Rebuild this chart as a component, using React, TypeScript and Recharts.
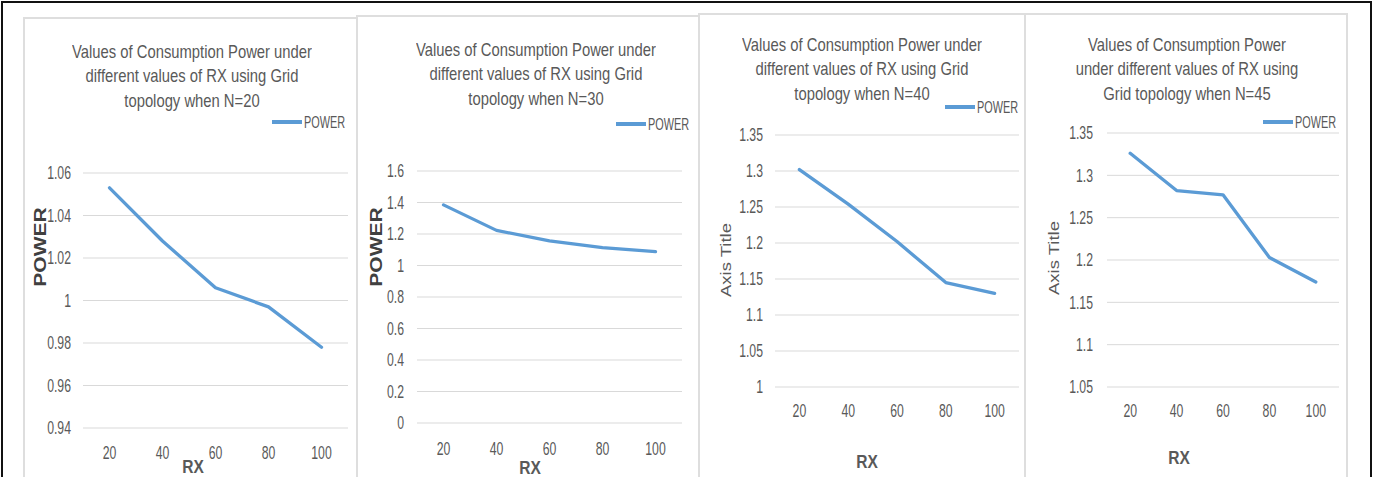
import { LineChart, Line, XAxis, YAxis, CartesianGrid, Legend } from 'recharts';

// RX categories shared by all four charts
const rxValues = [20, 40, 60, 80, 100];

// POWER (N = 20, 30, 40, 45)
const powerN20 = [1.053, 1.028, 1.006, 0.997, 0.978];
const powerN30 = [1.385, 1.223, 1.156, 1.113, 1.088];
const powerN40 = [1.302, 1.254, 1.202, 1.145, 1.13];
const powerN45 = [1.326, 1.282, 1.277, 1.203, 1.174];

// y tick labels
const ticksN20 = [0.94, 0.96, 0.98, 1, 1.02, 1.04, 1.06];
const ticksN30 = [0, 0.2, 0.4, 0.6, 0.8, 1, 1.2, 1.4, 1.6];
const ticksN40 = [1, 1.05, 1.1, 1.15, 1.2, 1.25, 1.3, 1.35];
const ticksN45 = [1.05, 1.1, 1.15, 1.2, 1.25, 1.3, 1.35];

const titleN20 = ['Values of Consumption Power under', 'different values of RX using Grid', 'topology when N=20'];
const titleN30 = ['Values of Consumption Power under', 'different values of RX using Grid', 'topology when N=30'];
const titleN40 = ['Values of Consumption Power under', 'different values of RX using Grid', 'topology when N=40'];
const titleN45 = ['Values of Consumption Power', 'under different values of RX using', 'Grid topology when N=45'];

const seriesName = 'POWER';
const xTitle = 'RX';

// the source picture is squeezed sideways, so text is drawn with Arial metrics and scaled in x
const SANS = "'Liberation Sans', Arial, sans-serif";
const TEXT = '#595959';
const BLUE = '#5b9bd5';
const H = 477;

const panels = [
  {
    values: powerN20, ticks: ticksN20, title: titleN20, yTitle: 'POWER', yBold: true,
    box: [23, 17, 335], plot: [83, 348, 173, 428], yGap: 12, xGap: 19,
    titleAt: [192, 52], legendAt: [272, 122], yTitleAt: [40, 247], xTitleAt: [193, 467],
  },
  {
    values: powerN30, ticks: ticksN30, title: titleN30, yTitle: 'POWER', yBold: true,
    box: [356, 15, 344], plot: [417, 682, 171, 423], yGap: 13, xGap: 20,
    titleAt: [536, 50], legendAt: [616, 124], yTitleAt: [376, 247], xTitleAt: [530, 468],
  },
  {
    values: powerN40, ticks: ticksN40, title: titleN40, yTitle: 'Axis Title', yBold: false,
    box: [698, 13, 328], plot: [775, 1019, 135, 387], yGap: 12, xGap: 18,
    titleAt: [862, 45], legendAt: [945, 107], yTitleAt: [727, 260], xTitleAt: [867, 462],
  },
  {
    values: powerN45, ticks: ticksN45, title: titleN45, yTitle: 'Axis Title', yBold: false,
    box: [1024, 13, 324], plot: [1107, 1339, 133, 387], yGap: 14, xGap: 18,
    titleAt: [1187, 45], legendAt: [1263, 122], yTitleAt: [1055, 258], xTitleAt: [1179, 458],
  },
];

const XTick = ({ x, y, payload }: any) => (
  <text
    transform={`translate(${x},${y}) scale(0.7,1)`}
    textAnchor="middle"
    dy="0.71em"
    fontSize={17.5}
    fill={TEXT}
    fontFamily={SANS}
  >
    {payload.value}
  </text>
);

const YTick = ({ x, y, payload }: any) => (
  <text
    transform={`translate(${x},${y}) scale(0.7,1)`}
    textAnchor="end"
    dy="0.36em"
    fontSize={17.5}
    fill={TEXT}
    fontFamily={SANS}
  >
    {payload.value}
  </text>
);

function Panel({ p }: { p: (typeof panels)[number] }) {
  const [bx, by, bw] = p.box;
  const [pl, pr, pt, pb] = p.plot;
  const data = rxValues.map((rx, i) => ({ rx, power: p.values[i] }));
  const band = (pr - pl) / rxValues.length;

  return (
    <>
      <div
        style={{
          position: 'absolute', left: bx, top: by, width: bw - 4, height: H,
          border: '2px solid #dedede', background: '#fff',
        }}
      />
      <div style={{ position: 'absolute', left: bx, top: 0 }}>
        <LineChart
          width={bw}
          height={H}
          data={data}
          margin={{ top: pt, right: bx + bw - pr, bottom: 0, left: 0 }}
        >
          <CartesianGrid vertical={false} stroke="#d9d9d9" />
          <XAxis
            dataKey="rx"
            height={H - pb}
            padding={{ left: band / 2, right: band / 2 }}
            axisLine={false}
            tickLine={false}
            tickSize={0}
            tickMargin={p.xGap}
            tick={<XTick />}
          />
          <YAxis
            type="number"
            width={pl - bx}
            domain={[p.ticks[0], p.ticks[p.ticks.length - 1]]}
            ticks={p.ticks}
            interval={0}
            axisLine={false}
            tickLine={false}
            tickSize={0}
            tickMargin={p.yGap}
            tick={<YTick />}
          />
          <Legend
            layout="vertical"
            align="center"
            verticalAlign="middle"
            wrapperStyle={{ left: p.legendAt[0] - bx, top: p.legendAt[1] - 10, width: 100, height: 20 }}
            content={({ payload }: any) => (
              <div style={{ display: 'flex', alignItems: 'center', height: 20 }}>
                {(payload || []).map((e: any) => (
                  <div key={e.value} style={{ display: 'flex', alignItems: 'center' }}>
                    <svg width={30} height={6}>
                      <line x1={0} y1={3} x2={30} y2={3} stroke={e.color} strokeWidth={4} />
                    </svg>
                    <span
                      style={{
                        display: 'inline-block', marginLeft: 2, fontSize: 16.5, color: TEXT, fontFamily: SANS,
                        transform: 'scaleX(0.66)', transformOrigin: 'left center', lineHeight: 1,
                      }}
                    >
                      {e.value}
                    </span>
                  </div>
                ))}
              </div>
            )}
          />
          <Line
            type="linear"
            dataKey="power"
            name={seriesName}
            stroke={BLUE}
            strokeWidth={3.3}
            strokeLinejoin="round"
            strokeLinecap="round"
            dot={false}
            activeDot={false}
            isAnimationActive={false}
          />
        </LineChart>
      </div>
      <div
        style={{
          position: 'absolute', left: p.titleAt[0] - 200, top: p.titleAt[1] - 12.25, width: 400,
          textAlign: 'center', fontFamily: SANS, fontSize: 18.5, lineHeight: '24.5px', color: TEXT,
          whiteSpace: 'nowrap',
        }}
      >
        {p.title.map((line) => (
          <div key={line} style={{ transform: 'scaleX(0.8)', transformOrigin: 'center' }}>
            {line}
          </div>
        ))}
      </div>
      <div
        style={{
          position: 'absolute', left: p.yTitleAt[0], top: p.yTitleAt[1], whiteSpace: 'nowrap',
          transform: 'translate(-50%, -50%) rotate(-90deg) scaleY(0.76)',
          fontFamily: SANS, fontWeight: p.yBold ? 700 : 400, fontSize: p.yBold ? 21 : 18.5,
          color: p.yBold ? '#404040' : TEXT, lineHeight: 1,
        }}
      >
        {p.yTitle}
      </div>
      <div
        style={{
          position: 'absolute', left: p.xTitleAt[0], top: p.xTitleAt[1], whiteSpace: 'nowrap',
          transform: 'translate(-50%, -50%) scaleX(0.84)', fontFamily: SANS, fontWeight: 700, fontSize: 18.5,
          color: TEXT, lineHeight: 1,
        }}
      >
        {xTitle}
      </div>
    </>
  );
}

export default function App() {
  return (
    <div
      style={{
        position: 'absolute', left: 0, top: 0, width: 1373, height: H, overflow: 'hidden',
        background: '#fff',
      }}
    >
      <div
        style={{
          position: 'absolute', left: 1, top: 1, width: 1367, height: H + 10,
          border: '2px solid #111', borderBottom: 'none',
        }}
      />
      {panels.map((p, i) => (
        <Panel key={i} p={p} />
      ))}
    </div>
  );
}
